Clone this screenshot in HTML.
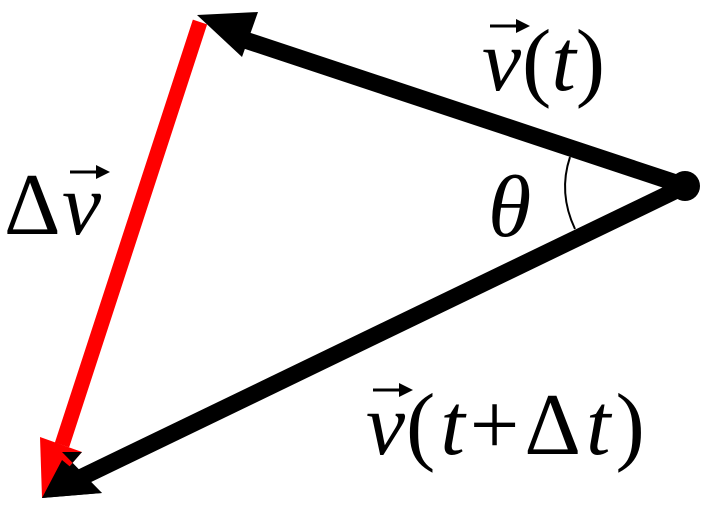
<!DOCTYPE html>
<html><head><style>html,body{margin:0;padding:0;background:#fff}</style></head>
<body>
<svg width="704" height="512" viewBox="0 0 704 512" xmlns="http://www.w3.org/2000/svg">
<g font-family="Liberation Serif, serif" font-size="88" fill="#000">
<line x1="685" y1="186" x2="230" y2="35" stroke="#000" stroke-width="17"/>
<line x1="685" y1="186" x2="80" y2="478" stroke="#000" stroke-width="17"/>
<line x1="200" y1="22" x2="62" y2="445" stroke="#ff0000" stroke-width="15"/>
<polygon points="197,15 258,12 242,57" fill="#000"/>
<polygon points="42,498 40,437 82,452" fill="#ff0000"/>
<polygon points="42,498 82,452 62,452 102,493" fill="#000"/>
<polygon points="42,498 62,460 102,493" fill="#000"/>
<circle cx="685" cy="186" r="15" fill="#000"/>
<path d="M570,157 Q558,193 575,229" fill="none" stroke="#000" stroke-width="2"/>
<text x="482" y="90" font-style="italic">v</text>
<text x="522" y="90">(<tspan font-style="italic">t</tspan>)</text>
<line x1="490" y1="26" x2="525" y2="26" stroke="#000" stroke-width="3"/>
<polygon points="530,26 516,19 516,33" fill="#000"/>
<text x="488" y="236" font-style="italic">θ</text>
<text x="4" y="234">Δ</text>
<text x="62" y="234" font-style="italic">v</text>
<line x1="70" y1="172" x2="105" y2="172" stroke="#000" stroke-width="3"/>
<polygon points="110,172 96,165 96,179" fill="#000"/>
<text x="366" y="454" font-style="italic">v</text>
<text x="406" y="454" letter-spacing="5">(<tspan font-style="italic">t</tspan>+Δ<tspan font-style="italic">t</tspan>)</text>
<line x1="373" y1="390" x2="408" y2="390" stroke="#000" stroke-width="3"/>
<polygon points="413,390 399,383 399,397" fill="#000"/>
</g>
</svg>
</body></html>
